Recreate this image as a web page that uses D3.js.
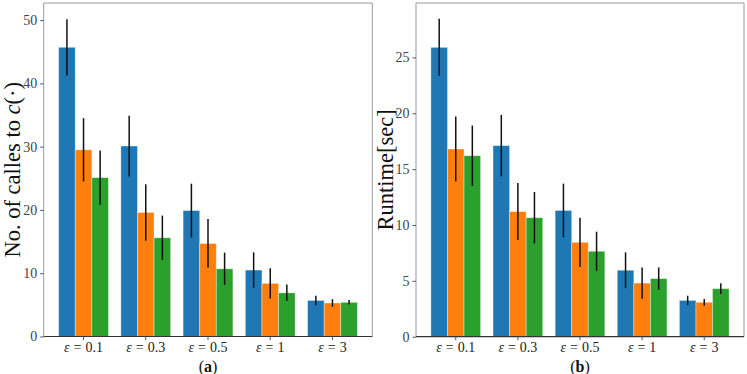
<!DOCTYPE html>
<html lang="en">
<head>
  <meta charset="UTF-8">
  <script src="https://d3js.org/d3.v7.min.js"></script>
  <style>
    body { margin: 0; background: #fff; }
    text { font-family: "Liberation Serif", "DejaVu Serif", serif; }
  </style>
</head>
<body>
<div id="chart"></div>
<script>
// categories (epsilon values)
var categories = ["0.1", "0.3", "0.5", "1", "3"];
var colors = ["#1f77b4", "#ff7f0e", "#2ca02c"];

// (a) number of calls
var callsS1 = [45.7, 30.1, 19.9, 10.5, 5.7];
var callsS2 = [29.5, 19.6, 14.7, 8.4, 5.3];
var callsS3 = [25.1, 15.6, 10.7, 6.9, 5.4];
var callsErr1 = [4.45, 4.8, 4.25, 2.8, 0.75];
var callsErr2 = [5.0, 4.45, 3.85, 2.4, 0.6];
var callsErr3 = [4.3, 3.5, 2.55, 1.3, 0.35];
var callsTicks = [0, 10, 20, 30, 40, 50];

// (b) runtime
var runS1 = [25.9, 17.1, 11.3, 5.95, 3.25];
var runS2 = [16.8, 11.2, 8.45, 4.8, 3.08];
var runS3 = [16.2, 10.65, 7.65, 5.2, 4.3];
var runErr1 = [2.55, 2.75, 2.4, 1.6, 0.42];
var runErr2 = [2.9, 2.55, 2.2, 1.4, 0.3];
var runErr3 = [2.7, 2.3, 1.75, 1.0, 0.48];
var runTicks = [0, 5, 10, 15, 20, 25];

var W = 747, H = 374;
var svg = d3.select("#chart").append("svg")
  .attr("width", W).attr("height", H);

var barW = 0.8 / 3;

function drawPanel(opts) {
  var x = d3.scaleLinear().domain([-0.64, 4.64]).range([opts.left, opts.right]);
  var y = d3.scaleLinear().domain([0, opts.ymax]).range([opts.bottom, opts.top]);
  var g = svg.append("g");

  var series = [opts.s1, opts.s2, opts.s3];
  var errs = [opts.e1, opts.e2, opts.e3];

  series.forEach(function(vals, si) {
    var off = (si - 1) * barW;
    g.selectAll(null)
      .data(vals)
      .enter()
      .append("rect")
        .attr("x", function(d, i) { return x(i + off - barW / 2); })
        .attr("y", function(d) { return y(d); })
        .attr("width", x(barW) - x(0))
        .attr("height", function(d) { return y(0) - y(d); })
        .attr("fill", colors[si])
        .attr("stroke", "#ffffff")
        .attr("stroke-opacity", 0.45)
        .attr("stroke-width", 0.8);
  });

  series.forEach(function(vals, si) {
    var off = (si - 1) * barW;
    g.selectAll(null)
      .data(vals)
      .enter()
      .append("line")
        .attr("x1", function(d, i) { return x(i + off); })
        .attr("x2", function(d, i) { return x(i + off); })
        .attr("y1", function(d, i) { return y(d - errs[si][i]); })
        .attr("y2", function(d, i) { return y(d + errs[si][i]); })
        .attr("stroke", "#111")
        .attr("stroke-width", 1.5);
  });

  // frame
  g.append("line").attr("x1", opts.left).attr("x2", opts.left)
    .attr("y1", opts.top).attr("y2", opts.bottom).attr("stroke", "#999").attr("stroke-width", 1);
  g.append("line").attr("x1", opts.right).attr("x2", opts.right)
    .attr("y1", opts.top).attr("y2", opts.bottom).attr("stroke", "#999").attr("stroke-width", 1);
  g.append("line").attr("x1", opts.left).attr("x2", opts.right)
    .attr("y1", opts.top).attr("y2", opts.top).attr("stroke", "#999").attr("stroke-width", 1);

  // y axis
  var yAxis = g.append("g")
    .attr("transform", "translate(" + opts.left + ",0)")
    .call(d3.axisLeft(y).tickValues(opts.ticks).tickSize(3.5).tickPadding(3));
  yAxis.select(".domain").remove();
  yAxis.selectAll(".tick line").attr("stroke", "#555");
  yAxis.selectAll("text").attr("font-size", 14).attr("fill", "#444")
    .style("font-family", "'Liberation Serif', serif");

  // x axis
  g.append("line").attr("x1", opts.left).attr("x2", opts.right)
    .attr("y1", opts.bottom).attr("y2", opts.bottom).attr("stroke", "#333").attr("stroke-width", 1.2);
  var xt = g.selectAll(null).data(categories).enter().append("g")
    .attr("transform", function(d, i) { return "translate(" + x(i) + "," + opts.bottom + ")"; });
  xt.append("line").attr("y1", 0).attr("y2", 3.5).attr("stroke", "#555");
  var tx = xt.append("text").attr("y", 15.5).attr("text-anchor", "middle")
    .attr("font-size", 14).attr("fill", "#222");
  tx.append("tspan").attr("font-style", "italic").text("ε");
  tx.append("tspan").attr("dx", 4).text("=");
  tx.append("tspan").attr("dx", 4).text(function(d) { return d; });

  // panel label
  var lab = g.append("text").attr("x", (opts.left + opts.right) / 2).attr("y", 372)
    .attr("text-anchor", "middle").attr("font-size", 16).attr("fill", "#111");
  lab.append("tspan").text("(");
  lab.append("tspan").attr("font-weight", "bold").text(opts.panel);
  lab.append("tspan").text(")");

  // y label
  var yl = g.append("text")
    .attr("transform", "translate(" + opts.ylabX + "," + ((opts.top + opts.bottom) / 2) + ") rotate(-90)")
    .attr("text-anchor", "middle").attr("font-size", 22.5).attr("fill", "#111");
  opts.ylabel(yl);
}

drawPanel({
  left: 43.7, right: 372.3, top: 3, bottom: 336.5, ymax: 52.7,
  s1: callsS1, s2: callsS2, s3: callsS3,
  e1: callsErr1, e2: callsErr2, e3: callsErr3,
  ticks: callsTicks, panel: "a", ylabX: 20,
  ylabel: function(t) {
    t.append("tspan").text("No. of calles to ");
    t.append("tspan").attr("font-style", "italic").text("c");
    t.append("tspan").text("(·)");
  }
});

drawPanel({
  left: 416, right: 744, top: 3, bottom: 336.7, ymax: 29.87,
  s1: runS1, s2: runS2, s3: runS3,
  e1: runErr1, e2: runErr2, e3: runErr3,
  ticks: runTicks, panel: "b", ylabX: 393,
  ylabel: function(t) {
    t.append("tspan").text("Runtime[sec]");
  }
});
</script>
</body>
</html>
